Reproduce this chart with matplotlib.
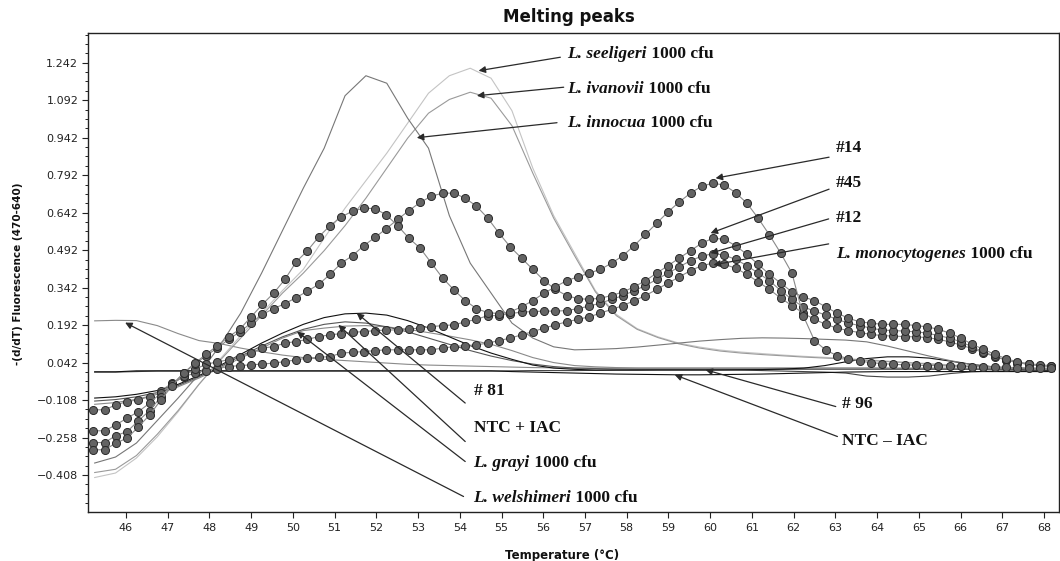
import matplotlib
matplotlib.use("Agg")
import matplotlib.pyplot as plt
from matplotlib.ticker import FixedLocator, FixedFormatter

# ---------------- data ----------------
# temperatures of the instrument readings (dotted sample curves)
TEMP_READS = [45.22, 45.49, 45.76, 46.03, 46.30, 46.57, 46.84, 47.11, 47.38, 47.65,
              47.92, 48.19, 48.46, 48.73, 49.00, 49.27, 49.54, 49.81, 50.08, 50.35,
              50.62, 50.89, 51.16, 51.43, 51.70, 51.97, 52.24, 52.51, 52.78, 53.05,
              53.32, 53.59, 53.86, 54.13, 54.40, 54.67, 54.94, 55.21, 55.48, 55.75,
              56.02, 56.29, 56.56, 56.83, 57.10, 57.37, 57.64, 57.91, 58.18, 58.45,
              58.72, 58.99, 59.26, 59.53, 59.80, 60.07, 60.34, 60.61, 60.88, 61.15,
              61.42, 61.69, 61.96, 62.23, 62.50, 62.77, 63.04, 63.31, 63.58, 63.85,
              64.12, 64.39, 64.66, 64.93, 65.20, 65.47, 65.74, 66.01, 66.28, 66.55,
              66.82, 67.09, 67.36, 67.63, 67.90, 68.17]

SAMPLE_14 = [-0.307, -0.307, -0.28, -0.26, -0.215, -0.167, -0.107, -0.05, 0.0, 0.04,
             0.075, 0.11, 0.145, 0.176, 0.225, 0.275, 0.32, 0.375, 0.445, 0.49,
             0.545, 0.59, 0.625, 0.648, 0.66, 0.658, 0.633, 0.59, 0.54, 0.5,
             0.44, 0.38, 0.333, 0.29, 0.258, 0.242, 0.238, 0.245, 0.265, 0.29,
             0.32, 0.345, 0.37, 0.385, 0.4, 0.415, 0.44, 0.47, 0.51, 0.555,
             0.6, 0.645, 0.685, 0.72, 0.748, 0.76, 0.752, 0.722, 0.68, 0.62,
             0.553, 0.48, 0.4, 0.23, 0.13, 0.092, 0.07, 0.058, 0.048, 0.042,
             0.038, 0.035, 0.033, 0.032, 0.03, 0.03, 0.028, 0.027, 0.026, 0.025,
             0.024, 0.023, 0.022, 0.021, 0.02, 0.02]

SAMPLE_45 = [-0.278, -0.278, -0.25, -0.234, -0.19, -0.15, -0.094, -0.045, 0.0, 0.035,
             0.07, 0.1, 0.135, 0.165, 0.2, 0.235, 0.258, 0.278, 0.302, 0.328,
             0.355, 0.395, 0.44, 0.47, 0.51, 0.543, 0.578, 0.615, 0.65, 0.683,
             0.708, 0.72, 0.72, 0.7, 0.668, 0.62, 0.56, 0.505, 0.46, 0.415,
             0.37, 0.335, 0.31, 0.298, 0.295, 0.3, 0.31, 0.325, 0.345, 0.37,
             0.4, 0.43, 0.46, 0.49, 0.52, 0.54, 0.535, 0.51, 0.475, 0.435,
             0.395, 0.36, 0.325, 0.305, 0.29, 0.265, 0.24, 0.22, 0.205, 0.2,
             0.195, 0.195, 0.195, 0.19, 0.185, 0.175, 0.16, 0.14, 0.115, 0.095,
             0.075, 0.058, 0.045, 0.038, 0.033, 0.03]

SAMPLE_12 = [-0.231, -0.231, -0.207, -0.18, -0.154, -0.12, -0.079, -0.045, -0.012, 0.015,
             0.035, 0.045, 0.053, 0.066, 0.08, 0.1, 0.106, 0.12, 0.126, 0.135,
             0.146, 0.153, 0.158, 0.163, 0.166, 0.17, 0.172, 0.173, 0.176, 0.18,
             0.186, 0.19, 0.193, 0.205, 0.215, 0.23, 0.23, 0.238, 0.244, 0.246,
             0.248, 0.248, 0.25, 0.258, 0.268, 0.28, 0.295, 0.31, 0.33, 0.35,
             0.375, 0.4, 0.425, 0.45, 0.468, 0.478, 0.472, 0.455, 0.43, 0.4,
             0.37, 0.33, 0.295, 0.265, 0.248, 0.232, 0.215, 0.2, 0.19, 0.18,
             0.172, 0.17, 0.168, 0.165, 0.16, 0.15, 0.14, 0.125, 0.105, 0.085,
             0.068, 0.052, 0.042, 0.035, 0.03, 0.027]

SAMPLE_MONO = [-0.147, -0.147, -0.127, -0.114, -0.107, -0.094, -0.07, -0.04, -0.015, 0.0,
               0.01, 0.018, 0.026, 0.03, 0.033, 0.036, 0.04, 0.046, 0.053, 0.06,
               0.063, 0.066, 0.08, 0.083, 0.086, 0.09, 0.093, 0.093, 0.093, 0.093,
               0.093, 0.1, 0.106, 0.11, 0.113, 0.12, 0.13, 0.14, 0.153, 0.166,
               0.18, 0.193, 0.205, 0.215, 0.225, 0.24, 0.255, 0.27, 0.29, 0.31,
               0.335, 0.36, 0.385, 0.41, 0.43, 0.44, 0.435, 0.42, 0.395, 0.365,
               0.335, 0.3, 0.27, 0.24, 0.215, 0.195, 0.18, 0.17, 0.162, 0.155,
               0.15, 0.148, 0.146, 0.145, 0.142, 0.135, 0.125, 0.112, 0.098, 0.082,
               0.066, 0.052, 0.042, 0.035, 0.03, 0.026]

# temperatures for the plain-line curves
TEMP_LINE = [45.25, 45.75, 46.25, 46.75, 47.25, 47.75, 48.25, 48.75, 49.25, 49.75,
             50.25, 50.75, 51.25, 51.75, 52.25, 52.75, 53.25, 53.75, 54.25, 54.75,
             55.25, 55.75, 56.25, 56.75, 57.25, 57.75, 58.25, 58.75, 59.25, 59.75,
             60.25, 60.75, 61.25, 61.75, 62.25, 62.75, 63.25, 63.75, 64.25, 64.75,
             65.25, 65.75, 66.25, 66.75, 67.25, 67.75, 68.25]

INNOCUA = [-0.36, -0.336, -0.28, -0.19, -0.10, -0.005, 0.11, 0.24, 0.40, 0.57,
           0.74, 0.90, 1.11, 1.19, 1.16, 1.02, 0.90, 0.63, 0.44, 0.32,
           0.20, 0.14, 0.105, 0.093, 0.095, 0.098, 0.104, 0.112, 0.12, 0.128,
           0.134, 0.139, 0.141, 0.14, 0.138, 0.135, 0.132, 0.125, 0.108, 0.088,
           0.068, 0.05, 0.035, 0.026, 0.02, 0.017, 0.015]

SEELIGERI = [-0.418, -0.40, -0.34, -0.255, -0.155, -0.045, 0.055, 0.15, 0.24, 0.33,
             0.415, 0.54, 0.66, 0.77, 0.88, 1.0, 1.12, 1.19, 1.22, 1.18,
             1.05, 0.82, 0.63, 0.48, 0.33, 0.235, 0.178, 0.145, 0.12, 0.104,
             0.092, 0.084, 0.078, 0.072, 0.067, 0.063, 0.058, 0.053, 0.048, 0.043,
             0.038, 0.033, 0.028, 0.024, 0.02, 0.017, 0.015]

IVANOVII = [-0.398, -0.385, -0.33, -0.245, -0.15, -0.045, 0.05, 0.14, 0.23, 0.32,
            0.40, 0.49, 0.59, 0.70, 0.82, 0.94, 1.04, 1.095, 1.124, 1.1,
            0.99, 0.80, 0.62, 0.47, 0.325, 0.23, 0.175, 0.142, 0.117, 0.1,
            0.088, 0.08, 0.074, 0.069, 0.064, 0.06, 0.056, 0.051, 0.046, 0.041,
            0.036, 0.031, 0.027, 0.023, 0.019, 0.016, 0.014]

WELSHIMERI = [0.209, 0.211, 0.21, 0.19, 0.158, 0.13, 0.118, 0.1, 0.085, 0.072,
              0.062, 0.055, 0.05, 0.045, 0.04, 0.035, 0.032, 0.03, 0.028, 0.026,
              0.024, 0.022, 0.021, 0.02, 0.02, 0.02, 0.02, 0.02, 0.02, 0.02,
              0.02, 0.02, 0.02, 0.02, 0.02, 0.02, 0.02, 0.02, 0.019, 0.018,
              0.018, 0.017, 0.016, 0.016, 0.015, 0.015, 0.015]

GRAYI = [-0.125, -0.118, -0.105, -0.085, -0.055, -0.02, 0.02, 0.06, 0.1, 0.14,
         0.17, 0.18, 0.188, 0.19, 0.185, 0.175, 0.162, 0.148, 0.133, 0.115,
         0.09, 0.062, 0.042, 0.03, 0.025, 0.022, 0.02, 0.02, 0.02, 0.02,
         0.02, 0.02, 0.02, 0.02, 0.02, 0.02, 0.02, 0.02, 0.02, 0.02,
         0.02, 0.02, 0.02, 0.018, 0.017, 0.016, 0.015]

NTC_PLUS_IAC = [-0.112, -0.106, -0.095, -0.078, -0.05, -0.015, 0.025, 0.068, 0.108, 0.145,
                0.175, 0.195, 0.205, 0.2, 0.185, 0.165, 0.14, 0.115, 0.09, 0.068,
                0.05, 0.036, 0.026, 0.02, 0.018, 0.016, 0.015, 0.015, 0.015, 0.015,
                0.015, 0.015, 0.015, 0.015, 0.015, 0.015, 0.015, 0.015, 0.015, 0.015,
                0.015, 0.015, 0.015, 0.015, 0.015, 0.015, 0.015]

SAMPLE_81 = [-0.10, -0.095, -0.085, -0.07, -0.045, -0.01, 0.03, 0.075, 0.12, 0.16,
             0.195, 0.222, 0.237, 0.24, 0.232, 0.21, 0.18, 0.145, 0.11, 0.08,
             0.055, 0.032, 0.02, 0.015, 0.012, 0.012, 0.012, 0.012, 0.012, 0.012,
             0.012, 0.013, 0.014, 0.016, 0.02, 0.03, 0.045, 0.058, 0.065, 0.065,
             0.06, 0.048, 0.035, 0.025, 0.018, 0.015, 0.012]

SAMPLE_96 = [0.004, 0.004, 0.006, 0.008, 0.008, 0.008, 0.008, 0.008, 0.008, 0.008,
             0.008, 0.008, 0.008, 0.008, 0.008, 0.008, 0.008, 0.008, 0.008, 0.008,
             0.009, 0.01, 0.01, 0.01, 0.011, 0.012, 0.012, 0.013, 0.013, 0.013,
             0.013, 0.012, 0.01, 0.008, 0.006, 0.004, 0.0, -0.012, -0.016, -0.016,
             -0.012, -0.002, 0.005, 0.008, 0.009, 0.01, 0.01]

NTC_MINUS_IAC = [0.005, 0.005, 0.009, 0.009, 0.009, 0.009, 0.009, 0.009, 0.009, 0.009,
                 0.009, 0.009, 0.009, 0.009, 0.009, 0.009, 0.009, 0.009, 0.009, 0.009,
                 0.006, 0.004, 0.002, 0.0, -0.002, -0.004, -0.005, -0.006, -0.007, -0.007,
                 -0.006, -0.005, -0.004, -0.002, 0.0, 0.002, 0.004, 0.005, 0.006, 0.006,
                 0.006, 0.006, 0.006, 0.006, 0.006, 0.006, 0.006]

Y_TICKS = [1.242, 1.092, 0.942, 0.792, 0.642, 0.492, 0.342, 0.192, 0.042, -0.108, -0.258, -0.408]
Y_TICK_LABELS = ["1.242", "1.092", "0.942", "0.792", "0.642", "0.492", "0.342", "0.192",
                 "0.042", "\u22120.108", "\u22120.258", "\u22120.408"]
X_TICKS = list(range(46, 69))

# annotation labels: (italic part, upright part, text anchor, arrow head, arrow tail)
ANNOTATIONS = [
    ("L. seeligeri", " 1000 cfu", (56.58, 1.262), (54.45, 1.210), (56.41, 1.264)),
    ("L. ivanovii", " 1000 cfu", (56.58, 1.122), (54.41, 1.110), (56.49, 1.144)),
    ("L. innocua", " 1000 cfu", (56.58, 0.984), (52.97, 0.942), (56.33, 1.002)),
    ("", "#14", (63.01, 0.886), (60.13, 0.780), (62.85, 0.864)),
    ("", "#45", (63.01, 0.744), (60.01, 0.560), (62.85, 0.736)),
    ("", "#12", (63.01, 0.606), (60.01, 0.480), (62.84, 0.617)),
    ("L. monocytogenes", " 1000 cfu", (63.01, 0.460), (60.08, 0.433), (62.84, 0.517)),
    ("", "# 81", (54.33, -0.087), (51.53, 0.240), (54.13, -0.120)),
    ("", "NTC + IAC", (54.33, -0.234), (51.09, 0.193), (54.13, -0.274)),
    ("L. grayi", " 1000 cfu", (54.33, -0.374), (50.10, 0.166), (54.13, -0.354)),
    ("L. welshimeri", " 1000 cfu", (54.33, -0.514), (45.98, 0.202), (54.09, -0.494)),
    ("", "# 96", (63.17, -0.140), (59.89, 0.013), (63.01, -0.134)),
    ("", "NTC \u2013 IAC", (63.17, -0.287), (59.15, -0.007), (63.05, -0.254)),
]

# ---------------- figure ----------------
W, H = 1060, 561
fig = plt.figure(figsize=(W / 100, H / 100), dpi=100)
fig.patch.set_facecolor("white")
ax = fig.add_axes([88 / W, 1 - 512 / H, (1059 - 88) / W, (512 - 33) / H])

line_specs = [
    (WELSHIMERI, "#8a8a8a"),
    (GRAYI, "#8a8a8a"),
    (NTC_PLUS_IAC, "#555555"),
    (SAMPLE_96, "#444444"),
    (NTC_MINUS_IAC, "#111111"),
    (SAMPLE_81, "#111111"),
    (SEELIGERI, "#c4c4c4"),
    (IVANOVII, "#9a9a9a"),
    (INNOCUA, "#777777"),
]
for ys, col in line_specs:
    ax.plot(TEMP_LINE, ys, color=col, lw=0.8, zorder=2)

for ys in (SAMPLE_MONO, SAMPLE_12, SAMPLE_45, SAMPLE_14):
    ax.plot(TEMP_READS, ys, color="#8a8a8a", lw=0.8, marker="o", ms=5.8,
            mfc="#636363", mec="#2a2a2a", mew=0.7, zorder=3)

ax.set_xlim(45.09, 68.36)
ax.set_ylim(-0.556, 1.361)

ax.xaxis.set_major_locator(FixedLocator(X_TICKS))
ax.xaxis.set_major_formatter(FixedFormatter([str(t) for t in X_TICKS]))
ax.yaxis.set_major_locator(FixedLocator(Y_TICKS))
ax.yaxis.set_major_formatter(FixedFormatter(Y_TICK_LABELS))
minor = [0.042 + 0.0375 * k for k in range(-16, 36)]
ax.yaxis.set_minor_locator(FixedLocator([m for m in minor if -0.556 < m < 1.361]))

ax.tick_params(axis="both", which="major", direction="out", length=4, width=0.8,
               labelsize=8, colors="#222222", pad=3)
ax.tick_params(axis="x", which="major", pad=4)
ax.tick_params(axis="y", which="minor", direction="out", length=2.2, width=0.7,
               colors="#222222")
for sp in ax.spines.values():
    sp.set_color("#222222")
    sp.set_linewidth(1.0)

# titles
fig.text(569 / W, 1 - 17.5 / H, "Melting peaks", ha="center", va="center",
         fontsize=12, fontweight="bold", family="DejaVu Sans", color="#111111")
fig.text(562 / W, 1 - 555 / H, "Temperature (\u00b0C)", ha="center", va="center",
         fontsize=8.5, fontweight="bold", family="DejaVu Sans", color="#111111")
fig.text(18 / W, 1 - 274 / H, "-(d/dT) Fluorescence (470-640)", ha="center", va="center",
         rotation=90, fontsize=7.5, fontweight="bold", family="DejaVu Sans", color="#111111")

# annotations
serif = "Liberation Serif"
for ital, plain, tpos, head, tail in ANNOTATIONS:
    ax.annotate("", xy=head, xytext=tail,
                arrowprops=dict(arrowstyle="-|>", color="#2a2a2a", lw=0.9,
                                mutation_scale=10, shrinkA=0, shrinkB=0),
                zorder=5, annotation_clip=False)
    if ital:
        t1 = ax.text(tpos[0], tpos[1], ital, family=serif, style="italic",
                     fontweight="bold", fontsize=12.5, ha="left", va="baseline",
                     color="#111111", zorder=6)
        ax.annotate(plain, xy=(1, 0), xycoords=t1, ha="left", va="bottom",
                    family=serif, fontweight="bold", fontsize=12.5, color="#111111",
                    zorder=6)
    else:
        ax.text(tpos[0], tpos[1], plain, family=serif, fontweight="bold",
                fontsize=12.5, ha="left", va="baseline", color="#111111", zorder=6)

fig.savefig("out.png", dpi=100, facecolor="white")
